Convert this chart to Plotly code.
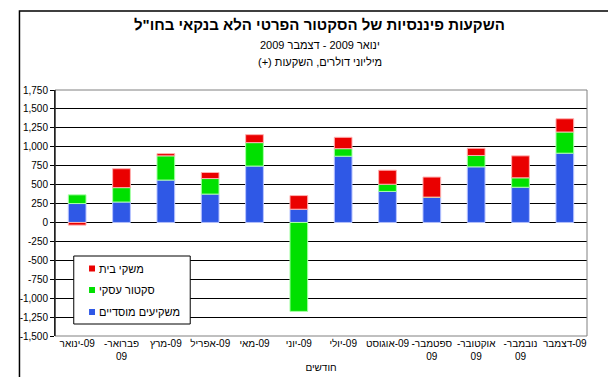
import plotly.graph_objects as go

LRM = "\u200e"
RLM = "\u200f"

months = ["ינואר" + LRM + "-09", "פברואר-" + RLM + "<br>09", "מרץ" + LRM + "-09",
          "אפריל" + LRM + "-09", "מאי" + LRM + "-09", "יוני" + LRM + "-09",
          "יולי" + LRM + "-09", "אוגוסט" + LRM + "-09", "ספטמבר-" + RLM + "<br>09",
          "אוקטובר-" + RLM + "<br>09", "נובמבר-" + RLM + "<br>09", "דצמבר" + LRM + "-09"]
institutional = [250, 270, 560, 375, 745, 175, 875, 410, 330, 735, 465, 915]
business = [115, 190, 320, 205, 310, -1175, 100, 95, 5, 150, 125, 280]
households = [-35, 250, 30, 80, 105, 180, 150, 185, 265, 95, 290, 175]

series_names = ["משקיעים מוסדיים", "סקטור עסקי", "משקי בית"]
series_colors = ["#2f58e6", "#00e000", "#ea0000"]
series_edges = ["#b8c4ff", "#a8ffa8", "#ffb0b0"]

ytick_vals = [-1500, -1250, -1000, -750, -500, -250, 0, 250, 500, 750, 1000, 1250, 1500, 1750]
ytick_text = ["-1,500", "-1,250", "-1,000", "-750", "-500", "-250", "0", "250", "500",
              "750", "1,000", "1,250", "1,500", "1,750"]

title_lines = ["השקעות פיננסיות של הסקטור הפרטי הלא בנקאי בחו\"ל",
               "ינואר 2009 - דצמבר 2009",
               "מיליוני דולרים, השקעות (+)" + RLM]
x_title = "חודשים"

FONT = "Arial, Liberation Sans, DejaVu Sans, sans-serif"

# pixel geometry of the plot area (for paper-coordinate placement of decorations)
PL, PR, PT, PB = 40, 579, 82, 328
def px(x):
    return (x - PL) / (PR - PL)
def py(y):
    return (PB - y) / (PB - PT)

fig = go.Figure()
for vals, name, col, edge in zip([institutional, business, households],
                                 series_names, series_colors, series_edges):
    fig.add_trace(go.Bar(
        x=months, y=vals, name=name, showlegend=False,
        marker=dict(color=col, line=dict(color=edge, width=1)),
        width=0.4,
    ))

n = len(months)
boundaries = [k + 0.5 for k in range(-1, n)]

fig.update_layout(
    width=616, height=377,
    margin=dict(l=PL, r=616 - PR, t=PT, b=377 - PB),
    paper_bgcolor="white", plot_bgcolor="white",
    barmode="relative",
    font=dict(family=FONT, color="black", size=10),
    showlegend=False,
    xaxis=dict(
        type="category", range=[-0.5, n - 0.5],
        showgrid=False, ticks="", showline=False, zeroline=False,
        tickfont=dict(family=FONT, size=10, color="black"),
        tickangle=0,
        title=dict(text=x_title, font=dict(family=FONT, size=10, color="black"), standoff=2),
    ),
    xaxis2=dict(
        overlaying="x", anchor="free", position=1500 / 3250,
        range=[-0.5, n - 0.5], tickvals=boundaries, ticks="outside", ticklen=4,
        tickcolor="black", showticklabels=False, showgrid=False, showline=False,
        zeroline=False,
    ),
    yaxis=dict(
        range=[-1500, 1750], tickvals=ytick_vals, ticktext=ytick_text,
        showgrid=True, gridcolor="black", gridwidth=1,
        zeroline=True, zerolinecolor="black", zerolinewidth=1,
        showline=True, linecolor="black", linewidth=1,
        ticks="outside", ticklen=4, tickcolor="black",
        tickfont=dict(family=FONT, size=10, color="black"),
    ),
)

# plot-area border and outer chart border
fig.add_shape(type="rect", xref="paper", yref="paper", x0=0, x1=1, y0=0, y1=1,
              line=dict(color="#808080", width=1), layer="above")
fig.add_shape(type="line", xref="paper", yref="paper", x0=0, x1=0, y0=0, y1=1,
              line=dict(color="black", width=1), layer="above")
fig.add_shape(type="rect", xref="paper", yref="paper",
              x0=px(4), x1=px(611), y0=py(371), y1=py(3),
              line=dict(color="black", width=1.5))

# legend box (red on top, blue at bottom)
fig.add_shape(type="rect", xref="paper", yref="paper",
              x0=px(59), x1=px(177), y0=py(316), y1=py(248),
              line=dict(color="black", width=1), fillcolor="white", layer="above")
legend_rows_y = [304, 282, 260.5]
for name, col, yy in zip(series_names, series_colors, legend_rows_y):
    fig.add_shape(type="rect", xref="paper", yref="paper",
                  x0=px(74.5), x1=px(80.5), y0=py(yy + 3), y1=py(yy - 3),
                  line=dict(width=0), fillcolor=col, layer="above")
    fig.add_annotation(text=name, xref="paper", yref="paper", x=px(83), y=py(yy),
                       xanchor="left", yanchor="middle", showarrow=False,
                       font=dict(family=FONT, size=11, color="black"))

title_y = [py(16), py(37), py(54)]
title_sizes = [15, 11, 11]
title_bold = [True, False, False]
for txt, yy, sz, b in zip(title_lines, title_y, title_sizes, title_bold):
    fig.add_annotation(text=f"<b>{txt}</b>" if b else txt, xref="paper", yref="paper",
                       x=px(308), y=yy, xanchor="center", yanchor="middle",
                       showarrow=False, font=dict(family=FONT, size=sz, color="black"))

fig.write_html("out.html")
